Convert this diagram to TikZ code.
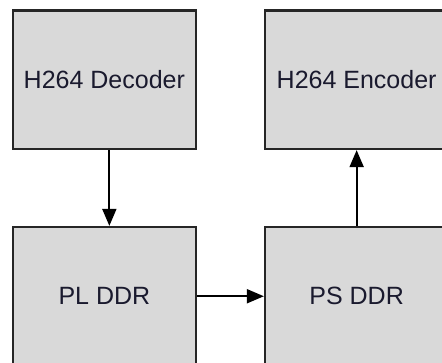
\documentclass[tikz,border=0pt]{standalone}
\usepackage{fontspec}
\setmainfont{Liberation Sans}
\usetikzlibrary{arrows.meta}
\definecolor{boxfill}{HTML}{D9D9D9}
\definecolor{boxline}{HTML}{262626}
\definecolor{txt}{HTML}{1A1A2E}
\begin{document}
\begin{tikzpicture}[x=1pt,y=1pt,
  blockbox/.style={draw=boxline,fill=boxfill,line width=2.3pt,minimum width=183.3pt,minimum height=138.5pt,inner sep=0pt,font=\fontsize{25}{30}\selectfont,text=txt},
  flow/.style={draw=black,line width=2pt,-{Triangle[length=17pt,width=14pt]}}]
\useasboundingbox (0,0) rectangle (442,362);
\node[blockbox] (dec) at (104.35,282.25) {H264 Decoder};
\node[blockbox] (enc) at (356.65,282.25) {H264 Encoder};
\node[blockbox] (pl) at (104.35,65.75) {PL DDR};
\node[blockbox] (ps) at (356.65,65.75) {PS DDR};
\draw[flow] ([xshift=5pt]dec.south) -- ([xshift=5pt]pl.north);
\draw[flow] (ps.north) -- (enc.south);
\draw[flow] (pl.east) -- (ps.west);
\end{tikzpicture}
\end{document}
